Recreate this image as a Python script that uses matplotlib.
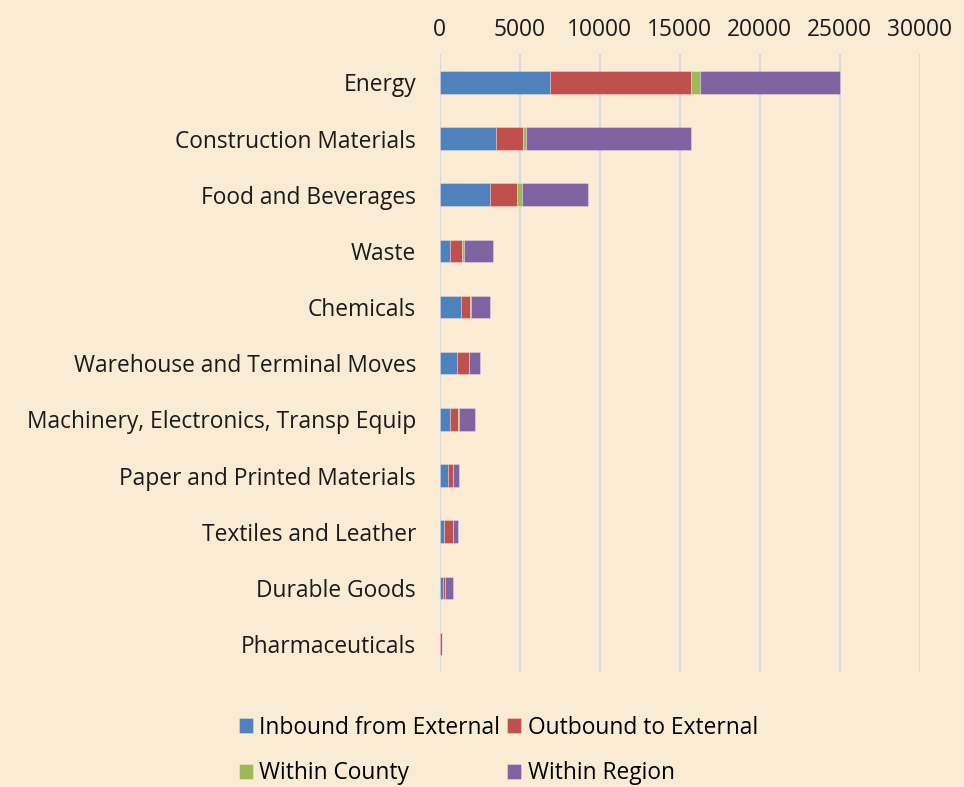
import numpy as np
import matplotlib
matplotlib.use("Agg")
import matplotlib.pyplot as plt

# datos (toneladas aprox.)
categorias = ["Energy", "Construction Materials", "Food and Beverages", "Waste",
              "Chemicals", "Warehouse and Terminal Moves",
              "Machinery, Electronics, Transp Equip", "Paper and Printed Materials",
              "Textiles and Leather", "Durable Goods", "Pharmaceuticals"]
inbound = [6875, 3540, 3125, 625, 1330, 1080, 650, 540, 270, 190, 20]
outbound = [8850, 1650, 1690, 750, 560, 750, 480, 290, 560, 120, 100]
county = [520, 230, 355, 125, 45, 20, 80, 10, 5, 5, 0]
region = [8790, 10310, 4080, 1810, 1190, 650, 980, 360, 290, 500, 30]

series = [("Inbound from External", inbound, "#4F81BD"),
          ("Outbound to External", outbound, "#C0504D"),
          ("Within County", county, "#9BBB59"),
          ("Within Region", region, "#8064A2")]

fondo = "#FAEBD4"
plt.rcParams["font.family"] = ["Open Sans", "DejaVu Sans"]

fig = plt.figure(figsize=(9.64, 7.87), dpi=100, facecolor=fondo)
ax = fig.add_axes([0.456, 0.146, 0.498, 0.785], facecolor=fondo)

y = np.arange(len(categorias))
izq = np.zeros(len(categorias))
barras = []
for nombre, vals, color in series:
    vals = np.array(vals, dtype=float)
    b = ax.barh(y, vals, left=izq, height=0.4, color=color, label=nombre,
                edgecolor=(1, 1, 1, 0.35), linewidth=0.6, zorder=3)
    barras.append(b)
    izq += vals

ax.set_xlim(0, 30000)
ax.set_ylim(len(categorias) - 0.5, -0.5)
ax.set_xticks(np.arange(0, 30001, 5000))
ax.xaxis.tick_top()
ax.set_yticks(y)
ax.set_yticklabels(categorias)
ax.tick_params(axis="both", length=0, labelsize=16.4, colors="#1a1a1a")
ax.tick_params(axis="y", pad=17)
ax.tick_params(axis="x", pad=9)
ax.grid(axis="x", color="#D9D9D9", linewidth=1.5, zorder=0)
for s in ax.spines.values():
    s.set_visible(False)

# leyenda en filas: orden de columnas para que quede fila por fila
orden = [0, 2, 1, 3]
fig.legend([barras[i] for i in orden], [series[i][0] for i in orden],
           loc="lower center", bbox_to_anchor=(0.517, -0.024), ncol=2, frameon=False,
           fontsize=16.4, handlelength=0.6, handleheight=0.6, handletextpad=0.3,
           columnspacing=0.3, labelspacing=0.95)

fig.savefig("out.png", dpi=100, facecolor=fondo)
